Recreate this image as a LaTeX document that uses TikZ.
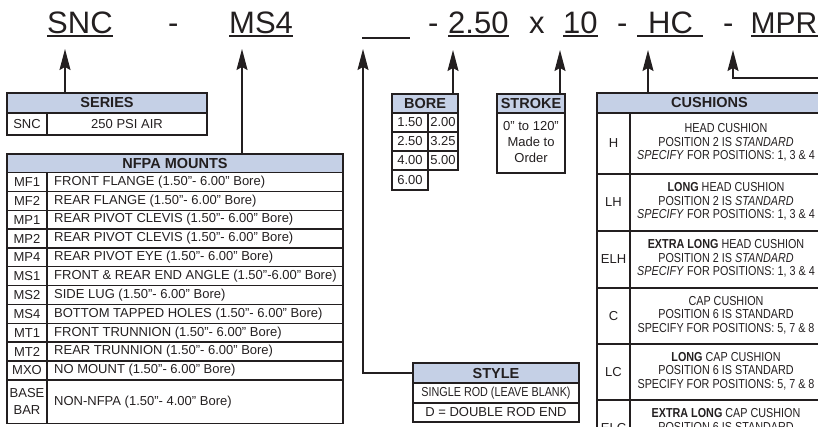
\documentclass[tikz,border=0pt]{standalone}
\usepackage{fontspec}
\setmainfont{Liberation Sans}
\newfontfamily\narrow[FakeStretch=0.83]{Liberation Sans}
\usetikzlibrary{arrows.meta}
\definecolor{hdrblue}{RGB}{197,208,230}
\definecolor{ink}{RGB}{35,31,32}
\begin{document}
\begin{tikzpicture}[x=1pt,y=-1pt,line join=miter,
  hdr/.style={fill=hdrblue,draw=ink,line width=1.4pt,inner sep=0pt,font=\fontsize{14.5}{16}\selectfont\bfseries,text=ink},
  cellbox/.style={draw=ink,line width=1.4pt},
  ttl/.style={inner sep=0pt,anchor=base west,font=\fontsize{31}{31}\selectfont,text=ink},
  uline/.style={draw=ink,line width=1.6pt},
  btxt/.style={inner sep=0pt,font=\fontsize{13}{15}\selectfont,text=ink},
  ntxt/.style={inner sep=0pt,align=center,font=\narrow\fontsize{13}{13.5}\selectfont,text=ink},
  arr/.style={draw=ink,line width=1.5pt,-{Stealth[length=21pt,width=11pt,inset=3pt]}},
]
\useasboundingbox (0,0) rectangle (818,426);
% ---------- title ----------
\node[ttl] (tSNC) at (47,33) {SNC};
\node[ttl] (tD1) at (168,33) {-};
\node[ttl] (tMS4) at (229,33) {MS4};
\node[ttl] (tD2) at (428,33) {-};
\node[ttl] (tBore) at (448,33) {2.50};
\node[ttl] (tX) at (529,33) {x};
\node[ttl] (tStroke) at (563,33) {10};
\node[ttl] (tD3) at (617,33) {-};
\node[ttl] (tHC) at (648,33) {HC};
\node[ttl] (tD4) at (723,33) {-};
\node[ttl,font=\fontsize{30}{30}\selectfont] (tMPR) at (750.5,33) {MPR};
\draw[uline] (47,36) -- (113,36);
\draw[uline] (229,36) -- (293,36);
\draw[uline] (362,38) -- (410,38);
\draw[uline] (448,36) -- (509,36);
\draw[uline] (563,36) -- (598,36);
\draw[uline] (637,36) -- (703,36);
\draw[uline] (751,36) -- (818,36);
% ---------- arrow tips ----------
\coordinate (aSNC) at (65,49);
\coordinate (aMS4) at (242,49);
\coordinate (aStyle) at (363,49);
\coordinate (aBore) at (453,50);
\coordinate (aStroke) at (560,50);
\coordinate (aHC) at (648,50);
\coordinate (aMPR) at (733,50);
\coordinate (mprEnd) at (818,78);
% ---------- SERIES ----------
\node[hdr,minimum width=200pt,minimum height=20pt] (serH) at (107,103) {SERIES};
\draw[cellbox] (7,113) rectangle (207,135);
\draw[cellbox] (47,113) -- (47,135);
\node[btxt] (serC) at (27,124) {SNC};
\node[btxt] (serD) at (127,124) {250 PSI AIR};
% ---------- NFPA ----------
\node[hdr,minimum width=336pt,minimum height=18.5pt] (nfH) at (175,163.25) {NFPA MOUNTS};
\foreach \c/\d [count=\k] in {
  MF1/FRONT FLANGE (1.50”- 6.00” Bore),
  MF2/REAR FLANGE (1.50”- 6.00” Bore),
  MP1/REAR PIVOT CLEVIS (1.50”- 6.00” Bore),
  MP2/REAR PIVOT CLEVIS (1.50”- 6.00” Bore),
  MP4/REAR PIVOT EYE (1.50”- 6.00” Bore),
  MS1/FRONT \& REAR END ANGLE (1.50”-6.00” Bore),
  MS2/SIDE LUG (1.50”- 6.00” Bore),
  MS4/BOTTOM TAPPED HOLES (1.50”- 6.00” Bore),
  MT1/FRONT TRUNNION (1.50”- 6.00” Bore),
  MT2/REAR TRUNNION (1.50”- 6.00” Bore),
  MXO/NO MOUNT (1.50”- 6.00” Bore)}{
  \pgfmathsetmacro{\ya}{172.5+(\k-1)*18.85}
  \pgfmathsetmacro{\yb}{\ya+18.85}
  \draw[cellbox] (7,\ya) rectangle (343,\yb);
  \draw[cellbox] (47,\ya) -- (47,\yb);
  \node[btxt] (nc\k) at (27,{(\ya+\yb)/2}) {\c};
  \node[btxt,anchor=west] (nd\k) at (54,{(\ya+\yb)/2}) {\d};
}
\draw[cellbox] (7,379.85) rectangle (343,423.5);
\draw[cellbox] (47,379.85) -- (47,423.5);
\node[btxt,align=center,font=\fontsize{13}{17.5}\selectfont] (nc12) at (27,401.7) {BASE\\BAR};
\node[btxt,anchor=west] (nd12) at (54,401.7) {NON-NFPA (1.50”- 4.00” Bore)};
% ---------- BORE ----------
\node[hdr,minimum width=66pt,minimum height=19pt] (boH) at (425,103.5) {BORE};
\draw[cellbox] (392,113) rectangle (458,170);
\draw[cellbox] (392,132) -- (458,132) (392,151) -- (458,151);
\draw[cellbox] (428,113) -- (428,170);
\draw[cellbox] (392,170) rectangle (428,190);
\node[btxt] (b1) at (410,122.5) {1.50};
\node[btxt] (b2) at (443,122.5) {2.00};
\node[btxt] (b3) at (410,141.5) {2.50};
\node[btxt] (b4) at (443,141.5) {3.25};
\node[btxt] (b5) at (410,160.5) {4.00};
\node[btxt] (b6) at (443,160.5) {5.00};
\node[btxt] (b7) at (410,180) {6.00};
% ---------- STROKE ----------
\node[hdr,minimum width=68pt,minimum height=19pt] (stH) at (531,103.5) {STROKE};
\draw[cellbox] (497,113) rectangle (565,173);
\node[btxt,align=center,font=\fontsize{13}{16}\selectfont] (stT) at (531,142.5) {0" to 120"\\Made to\\Order};
% ---------- CUSHIONS ----------
\node[hdr,minimum width=225pt,minimum height=20pt] (cuH) at (709.5,103) {CUSHIONS};
\draw[cellbox] (597,113) -- (597,430) (630,113) -- (630,430) (822,113) -- (822,430);
\foreach \y in {174,231,288,344,400} \draw[cellbox] (597,\y) -- (822,\y);
\node[btxt] (cl1) at (613.5,143.5) {H};
\node[btxt] (cl2) at (613.5,202.5) {LH};
\node[btxt] (cl3) at (613.5,259.5) {ELH};
\node[btxt] (cl4) at (613.5,316) {C};
\node[btxt] (cl5) at (613.5,372) {LC};
\node[btxt] (cl6) at (613.5,428.5) {ELC};
\node[ntxt] (ct1) at (726,142.5) {HEAD CUSHION\\POSITION 2 IS \textit{STANDARD}\\\textit{SPECIFY} FOR POSITIONS: 1, 3 \& 4};
\node[ntxt] (ct2) at (726,201.5) {\textbf{LONG} HEAD CUSHION\\POSITION 2 IS \textit{STANDARD}\\\textit{SPECIFY} FOR POSITIONS: 1, 3 \& 4};
\node[ntxt] (ct3) at (726,258.5) {\textbf{EXTRA LONG} HEAD CUSHION\\POSITION 2 IS \textit{STANDARD}\\\textit{SPECIFY} FOR POSITIONS: 1, 3 \& 4};
\node[ntxt] (ct4) at (726,315) {CAP CUSHION\\POSITION 6 IS STANDARD\\SPECIFY FOR POSITIONS: 5, 7 \& 8};
\node[ntxt] (ct5) at (726,371) {\textbf{LONG} CAP CUSHION\\POSITION 6 IS STANDARD\\SPECIFY FOR POSITIONS: 5, 7 \& 8};
\node[ntxt] (ct6) at (726,427.5) {\textbf{EXTRA LONG} CAP CUSHION\\POSITION 6 IS STANDARD\\SPECIFY FOR POSITIONS: 5, 7 \& 8};
% ---------- STYLE ----------
\node[hdr,minimum width=166pt,minimum height=20pt] (syH) at (496,373) {STYLE};
\draw[cellbox] (413,383) rectangle (579,422);
\draw[cellbox] (413,403) -- (579,403);
\node[ntxt] (sy1) at (496,393) {SINGLE ROD (LEAVE BLANK)};
\node[btxt] (sy2) at (496,412.5) {D = DOUBLE ROD END};
% ---------- connectors ----------
\draw[arr] (serH.north -| aSNC) -- (aSNC);
\draw[arr] (nfH.north -| aMS4) -- (aMS4);
\draw[arr] (syH.west) -- (syH.west -| aStyle) -- (aStyle);
\draw[arr] (boH.north -| aBore) -- (aBore);
\draw[arr] (stH.north -| aStroke) -- (aStroke);
\draw[arr] (cuH.north -| aHC) -- (aHC);
\draw[arr] (mprEnd) -- (mprEnd -| aMPR) -- (aMPR);
\end{tikzpicture}
\end{document}
